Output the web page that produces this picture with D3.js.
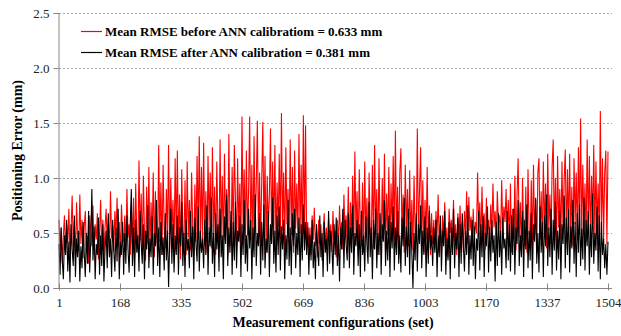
<!DOCTYPE html>
<html>
<head>
<meta charset="utf-8">
<script src="https://cdn.jsdelivr.net/npm/d3@7"></script>
<style>
  body { margin: 0; background: #fff; }
  text { font-family: "Liberation Serif", "Times New Roman", serif; }
</style>
</head>
<body>
<svg id="chart" width="621" height="336"></svg>
<script>
// configurations sampled every 3rd set: 1, 4, 7, ... 1504
var xTicks = [1, 168, 335, 502, 669, 836, 1003, 1170, 1337, 1504];
var yTicks = [0, 0.5, 1.0, 1.5, 2.0, 2.5];
var legendLabels = [
    "Mean RMSE before ANN calibratiom = 0.633 mm",
    "Mean RMSE after ANN calibration = 0.381 mm"
];

// error before calibration (mm)
var beforeCal = [
.62,.35,.55,.22,.48,.66,.30,.58,.41,.72,.28,.52,.84,.37,.60,.25,.78,.45,.33,.85,
.40,.62,.27,.55,.70,.34,.48,.22,.66,.52,.38,.75,.30,.58,.44,.68,.26,.50,.80,.36,
.62,.29,.55,.72,.40,.64,.31,.88,.45,.57,.33,.70,.48,.82,.37,.60,.28,.76,.50,.42,
.66,.35,.90,.46,.58,.30,.74,
.40,.82,.28,.95,.47,.33,1.16,.43,.86,.30,1.02,.50,.25,.92,.40,1.10,.32,.78,.45,1.05,
.28,.88,.50,.35,1.30,.42,.96,.30,1.12,.55,.36,.90,.46,1.30,.32,1.00,.50,.80,.30,1.18,
.44,1.25,.36,.85,.26,1.08,.52,.38,.98,.30,1.15,.46,.80,.34,1.05,.56,.30,.94,.42,1.20,
.50,1.38,.36,1.10,
.44,1.32,.38,.88,.32,1.20,.54,1.05,.36,1.28,
.48,.92,.30,1.15,.58,.40,1.35,.45,1.02,.34,
1.22,.52,.90,.30,1.40,.56,.38,1.10,.44,1.30,
.82,.32,1.18,.50,.95,.36,1.56,.54,1.08,.40,
1.25,.48,.88,1.56,.44,1.12,.34,1.38,.58,.92,
1.52,.46,1.05,.38,.98,1.51,.50,1.20,.32,1.02,
.54,.85,1.45,.42,1.15,.46,1.30,.36,.96,.56,
1.22,.44,1.59,.52,1.05,.34,1.28,.58,.90,.40,
1.35,.48,1.10,.32,1.25,.54,.95,.42,1.40,.50,
1.12,.38,1.57,.46,1.48,
.42,.60,.35,.55,.30,.66,.44,.73,.38,.52,
.28,.62,.40,.58,.25,.50,.68,.36,.55,.30,
.64,.42,.58,.33,.70,.45,.52,.28,.62,.40,
.75,.48,.60,.35,.85,.50,.66,
.40,.92,.32,.78,.44,1.02,.36,1.24,.48,.88,
.30,1.08,.52,.38,.96,.32,1.15,.46,.82,.34,
1.05,.50,.42,1.12,.36,1.30,.50,.90,.30,1.18,
.55,.38,1.00,.44,1.22,.32,.86,.48,1.10,.36,
.95,.52,1.20,.42,1.43,.46,.92,.34,1.05,1.27,
.44,.85,.32,1.12,.50,.90,.38,1.07,.46,.80,
.34,1.02,.50,.42,1.45,.46,.88,1.28,.38,.98,
.32,.80,.44,1.10,.36,.75,.30,.68,
.40,.62,.35,.70,.48,.85,.38,.58,.30,.66,
.45,.78,.36,.55,.28,.72,.50,.62,.34,.80,
.42,.58,.30,.68,.46,.75,.38,.60,.32,.70,
.48,.88,.40,.83,.52,.65,.36,.72,.45,.60,
.50,1.05,.55,.78,.40,.92,.48,.68,.35,.82,
.52,.62,.40,.76,.48,.95,.55,.70,.42,.88,
.58,.66,.45,.98,.52,.74,.60,.90,.48,.80,
.40,.95,.32,.72,.44,1.02,.34,.85,1.18,.46,
.78,.30,1.00,.50,.38,.92,.32,1.08,.52,.40,
.98,.36,1.12,.48,.80,.34,1.05,1.18,.44,.88,
.38,1.15,.50,.95,.36,1.22,.52,.85,.40,1.10,
1.35,.46,1.00,.38,1.20,.55,.90,.44,1.15,.50,
.98,1.26,.42,1.08,.52,1.22,.46,.92,.38,1.18,
.58,1.05,.44,1.28,.50,1.54,.46,1.12,.55,.95,
.42,1.35,.50,1.20,.44,1.02,.58,1.30,.46,1.15,
.52,.95,.42,1.61,.48,1.18,.44,1.05,1.25,.40,
1.24
];

// error after calibration (mm)
var afterCal = [
.40,.12,.55,.25,.08,.48,.30,.62,.15,.42,.05,.58,.35,.20,.66,.10,.45,.28,.52,.06,
.38,.18,.60,.32,.10,.50,.22,.70,.14,.44,.90,.25,.56,.08,.40,.30,.64,.12,.48,.20,
.58,.06,.36,.52,.18,.68,.28,.45,.10,.62,.34,.15,.55,.24,.72,.08,.42,.30,.60,.12,
.50,.22,.66,.35,.14,.58,.90,
.20,.55,.10,.62,.32,.48,.15,.70,.40,.22,.58,.08,.52,.35,.75,.18,.45,.28,.65,.12,
.50,.38,.80,.20,.55,.10,.60,.30,.46,.16,.68,.25,.52,.01,.42,.72,.22,.58,.14,.48,
.30,.66,.12,.55,.38,.78,.20,.50,.10,.62,.34,.45,.18,.70,.28,.56,.08,.64,.40,.24,
.74,.15,.52,.32,
.45,.18,.62,.30,.75,.12,.55,.38,.82,.22,
.50,.10,.68,.35,.58,.15,.72,.28,.48,.08,
.65,.40,.85,.20,.55,.32,.70,.12,.60,.25,
.78,.18,.52,.42,.66,.10,.58,.30,.80,.22,
.48,.15,.72,.36,.62,.08,.55,.28,.85,.20,
.50,.38,.68,.12,.60,.25,.76,.18,.45,.32,
.70,.10,.58,.40,.82,.22,.52,.14,.66,.30,
.74,.16,.56,.35,.62,.08,.48,.26,.80,.20,
.55,.12,.68,.38,.72,.18,.50,.30,.64,.10,
.58,.25,.76,.34,.60,
.30,.55,.12,.48,.25,.62,.18,.42,.08,.58,
.35,.20,.66,.28,.50,.10,.60,.32,.45,.15,
.70,.22,.52,.38,.12,.58,.30,.64,.20,.48,
.06,.55,.35,.72,.18,.62,.40,
.25,.68,.18,.55,.32,.75,.12,.50,.38,.62,
.20,.58,.10,.70,.30,.48,.15,.65,.40,.22,
.78,.28,.55,.08,.62,.35,.72,.18,.50,.30,
.68,.12,.58,.42,.80,.20,.52,.25,.66,.10,
.60,.36,.74,.16,.55,.30,.70,.22,.48,.14,
.64,.38,.82,.20,.56,.28,.72,.12,.60,.32,
.00,.50,.25,.68,.15,.58,.40,.75,.18,.52,
.30,.65,.10,.55,.22,.70,.35,.48,
.20,.55,.32,.62,.10,.48,.28,.66,.15,.52,
.38,.70,.12,.45,.25,.60,.08,.55,.30,.72,
.18,.50,.35,.64,.10,.58,.22,.68,.40,.15,
.52,.30,.75,.12,.48,.26,.62,.20,.56,.08,
.45,.34,.70,.16,.58,.28,.66,.10,.50,.38,
.74,.14,.55,.24,.62,.32,.48,.06,.60,.20,
.68,.28,.52,.12,.64,.36,.45,.18,.70,.25,
.58,.15,.66,.30,.72,.12,.55,.40,.80,.20,
.48,.28,.70,.10,.62,.35,.76,.18,.52,.25,
.68,.08,.58,.42,.82,.22,.50,.14,.74,.32,
.60,.10,.66,.38,.85,.20,.55,.28,.72,.12,
.62,.34,.78,.16,.52,.26,.70,.08,.58,.40,
.84,.18,.64,.30,.72,.14,.56,.36,.80,.22,
.60,.10,.68,.32,.76,.20,.54,.26,.82,.16,
.62,.38,.70,.12,.58,.28,.86,.22,.50,.34,
.74,.15,.66,.08,.60,.30,.45,.18,.40,.12,
.42
];

var WIDTH = 621, HEIGHT = 336;
var margin = {left: 59, right: 13, top: 13, bottom: 48};
var svg = d3.select("#chart");

var x = d3.scaleLinear().domain([1, 1504]).range([margin.left, WIDTH - margin.right]);
var y = d3.scaleLinear().domain([0, 2.5]).range([HEIGHT - margin.bottom, margin.top]);

// configuration number for each sample
var configs = beforeCal.map(function (d, i) { return 1 + 3 * i; });

// dashed gridlines
svg.append("g")
    .selectAll("line")
    .data(yTicks.slice(1))
    .enter()
    .append("line")
    .attr("x1", margin.left)
    .attr("x2", WIDTH - 9)
    .attr("y1", function (d) { return Math.round(y(d)) + 0.5; })
    .attr("y2", function (d) { return Math.round(y(d)) + 0.5; })
    .style("stroke", "#a6a6a6")
    .style("stroke-dasharray", "2,2")
    .style("stroke-width", 1);

// series lines, black drawn over red
var line = d3.line()
    .x(function (d, i) { return x(configs[i]); })
    .y(function (d) { return y(d); });

svg.append("path")
    .datum(beforeCal)
    .attr("d", line)
    .style("fill", "none")
    .style("stroke", "#ff0000")
    .style("stroke-width", 1.1);

svg.append("path")
    .datum(afterCal)
    .attr("d", line)
    .style("fill", "none")
    .style("stroke", "#000000")
    .style("stroke-width", 1.1);

// y axis
var yAxis = svg.append("g")
    .attr("transform", "translate(" + (margin.left - 0.5) + ",0)")
    .call(d3.axisLeft(y).tickValues(yTicks).tickSize(5).tickPadding(4)
        .tickFormat(d3.format(".1f")));

// x axis
var xAxis = svg.append("g")
    .attr("transform", "translate(0," + (Math.round(y(0)) + 0.5) + ")")
    .call(d3.axisBottom(x).tickValues(xTicks).tickSize(2).tickPadding(7)
        .tickFormat(d3.format("d")));
xAxis.selectAll(".tick line").attr("y1", -5);
xAxis.select(".domain").attr("d", "M" + (margin.left - 1) + ",0H" + (WIDTH - 9));

[yAxis, xAxis].forEach(function (g) {
    g.select(".domain").style("stroke", "#868686");
    g.selectAll(".tick line").style("stroke", "#868686");
    g.selectAll(".tick text")
        .style("font-size", "13px")
        .style("fill", "#222");
});
xAxis.selectAll(".tick text").attr("dy", "0.71em");

// axis titles
svg.append("text")
    .attr("transform", "translate(22," + (HEIGHT - margin.bottom + margin.top) / 2 + ") rotate(-90)")
    .attr("text-anchor", "middle")
    .style("font-size", "14px")
    .style("font-weight", "bold")
    .text("Positioning Error (mm)");

svg.append("text")
    .attr("x", 333)
    .attr("y", 327)
    .attr("text-anchor", "middle")
    .style("font-size", "14px")
    .style("font-weight", "bold")
    .text("Measurement configurations (set)");

// legend
var legendColors = ["#ff0000", "#000000"];
var legend = svg.append("g")
    .selectAll("g")
    .data(legendLabels)
    .enter()
    .append("g")
    .attr("transform", function (d, i) { return "translate(81," + (31 + i * 21) + ")"; });

legend.append("line")
    .attr("x1", 0).attr("x2", 21)
    .attr("y1", 0.5).attr("y2", 0.5)
    .style("stroke", function (d, i) { return legendColors[i]; })
    .style("stroke-width", 1.2);

legend.append("text")
    .attr("x", 24)
    .attr("y", 5)
    .style("font-size", "13px")
    .style("font-weight", "bold")
    .text(function (d) { return d; });
</script>
</body>
</html>
